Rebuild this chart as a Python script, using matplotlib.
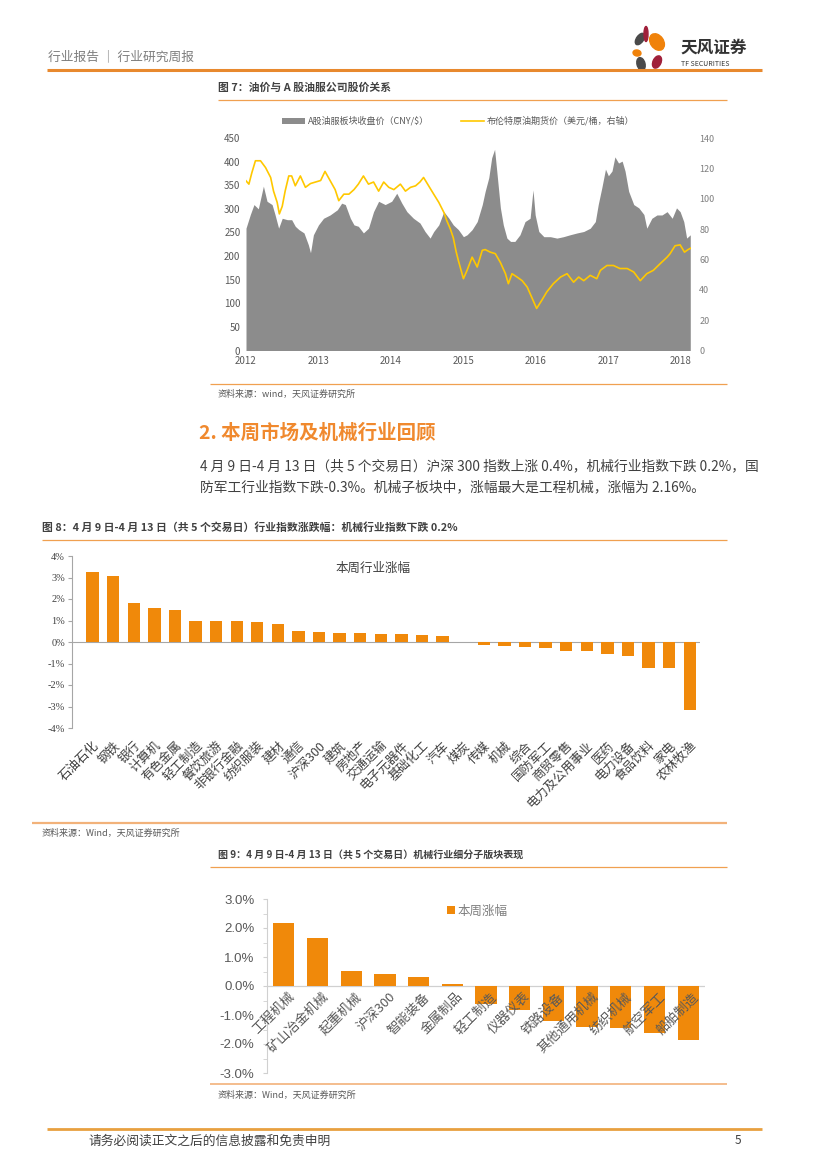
import matplotlib
matplotlib.use("Agg")
import matplotlib.pyplot as plt
from matplotlib.patches import Ellipse
import numpy as np

plt.rcParams['font.family'] = ['Noto Sans CJK SC', 'DejaVu Sans']

# ---------------- data: figure 7 ----------------
stock_t = [2012.00, 2012.06, 2012.11, 2012.17, 2012.24, 2012.29, 2012.36, 2012.40, 2012.45, 2012.50,
           2012.57, 2012.63, 2012.68, 2012.73, 2012.80, 2012.86, 2012.89, 2012.93, 2013.00, 2013.07,
           2013.16, 2013.26, 2013.32, 2013.37, 2013.44, 2013.49, 2013.55, 2013.62, 2013.69, 2013.76,
           2013.83, 2013.92, 2014.01, 2014.08, 2014.15, 2014.22, 2014.31, 2014.40, 2014.47, 2014.54,
           2014.59, 2014.66, 2014.73, 2014.80, 2014.86, 2014.93, 2015.00, 2015.05, 2015.12, 2015.19,
           2015.26, 2015.30, 2015.35, 2015.39, 2015.43, 2015.46, 2015.51, 2015.55, 2015.60, 2015.65,
           2015.71, 2015.78, 2015.85, 2015.92, 2015.96, 2015.99, 2016.04, 2016.11, 2016.20, 2016.29,
           2016.38, 2016.47, 2016.57, 2016.66, 2016.75, 2016.82, 2016.86, 2016.91, 2016.96, 2017.00,
           2017.05, 2017.09, 2017.14, 2017.19, 2017.23, 2017.28, 2017.35, 2017.42, 2017.49, 2017.53,
           2017.60, 2017.67, 2017.74, 2017.81, 2017.88, 2017.94, 2017.99, 2018.04, 2018.08, 2018.13]
stock_v = [259, 288, 309, 300, 348, 316, 309, 288, 259, 280,
           277, 277, 263, 256, 249, 224, 207, 245, 266, 280,
           287, 298, 312, 309, 280, 266, 263, 249, 259, 294,
           316, 309, 316, 333, 312, 294, 280, 270, 252, 238,
           252, 266, 294, 280, 266, 256, 241, 245, 256, 273,
           309, 337, 366, 408, 426, 380, 302, 266, 238, 231,
           231, 245, 273, 280, 340, 287, 252, 241, 241, 238,
           241, 245, 249, 252, 259, 273, 309, 345, 384, 370,
           380, 410, 397, 401, 380, 337, 309, 302, 288, 259,
           280, 287, 287, 294, 280, 302, 294, 273, 238, 245]

oil_t = [2012.00, 2012.04, 2012.08, 2012.13, 2012.20, 2012.27, 2012.34, 2012.38, 2012.43, 2012.46,
         2012.50, 2012.54, 2012.59, 2012.63, 2012.68, 2012.75, 2012.82, 2012.89, 2012.96, 2013.03,
         2013.09, 2013.16, 2013.23, 2013.28, 2013.35, 2013.42, 2013.49, 2013.55, 2013.62, 2013.69,
         2013.76, 2013.83, 2013.90, 2013.97, 2014.04, 2014.13, 2014.20, 2014.27, 2014.34, 2014.40,
         2014.45, 2014.52, 2014.59, 2014.66, 2014.73, 2014.77, 2014.82, 2014.86, 2014.90, 2014.93,
         2015.00, 2015.05, 2015.12, 2015.19, 2015.26, 2015.30, 2015.37, 2015.44, 2015.51, 2015.58,
         2015.62, 2015.67, 2015.74, 2015.81, 2015.88, 2015.94, 2016.01, 2016.08, 2016.15, 2016.24,
         2016.34, 2016.43, 2016.52, 2016.59, 2016.66, 2016.75, 2016.84, 2016.89, 2016.98, 2017.07,
         2017.16, 2017.26, 2017.35, 2017.44, 2017.53, 2017.62, 2017.71, 2017.81, 2017.85, 2017.92,
         2017.99, 2018.05, 2018.10, 2018.14]
oil_v = [111.8, 109.6, 117, 125, 125, 120.5, 114, 105, 97.6, 90,
         95, 105, 115, 115, 108.5, 115, 107.5, 110, 111, 112,
         118, 112, 106, 98.7, 103, 103, 106, 109.6, 115, 109.6,
         111, 105, 111, 107.5, 106, 109.6, 105, 107.5, 108.5, 111,
         114, 108.5, 103, 97.6, 91, 85.6, 80, 74.3, 65, 59.3,
         47.3, 52.8, 61.5, 55, 66, 66.5, 64.8, 63.8, 58, 50.6,
         44, 50.6, 48.4, 46, 41.8, 35.3, 27.7, 33, 38.6, 44,
         48.4, 50.6, 45, 48.4, 46, 49.5, 47.3, 52.8, 56, 56,
         54, 54, 51.7, 46, 50.6, 52.8, 57, 61.5, 63.7, 69,
         69.6, 64.8, 66.5, 67.5]
year_ticks = [2012, 2013, 2014, 2015, 2016, 2017, 2018]

# ---------------- data: figure 8 ----------------
ind_names = ['石油石化', '钢铁', '银行', '计算机', '有色金属', '轻工制造', '餐饮旅游', '非银行金融',
             '纺织服装', '建材', '通信', '沪深300', '建筑', '房地产', '交通运输', '电子元器件',
             '基础化工', '汽车', '煤炭', '传媒', '机械', '综合', '国防军工', '商贸零售',
             '电力及公用事业', '医药', '电力设备', '食品饮料', '家电', '农林牧渔']
ind_vals = [3.25, 3.05, 1.82, 1.60, 1.49, 0.96, 0.96, 0.96, 0.93, 0.82,
            0.53, 0.45, 0.42, 0.40, 0.39, 0.36, 0.31, 0.28, 0.01, -0.16,
            -0.20, -0.25, -0.28, -0.40, -0.42, -0.54, -0.67, -1.20, -1.20, -3.15]

# ---------------- data: figure 9 ----------------
sub_names = ['工程机械', '矿山冶金机械', '起重机械', '沪深300', '智能装备', '金属制品', '轻工制造',
             '仪器仪表', '铁路设备', '其他通用机械', '纺织机械', '航空军工', '船舶制造']
sub_vals = [2.16, 1.64, 0.51, 0.42, 0.31, 0.08, -0.63, -0.83, -1.22, -1.43, -1.45, -1.63, -1.86]

ORANGE = '#F0890A'
LINE_OR = '#F0A050'
W, H = 827, 1169

fig = plt.figure(figsize=(W / 100, H / 100), dpi=100)

# overlay in pixel coordinates
ov = fig.add_axes([0, 0, 1, 1], zorder=-1)
ov.set_xlim(0, W)
ov.set_ylim(H, 0)
ov.axis('off')

def hline(y, x0, x1, lw=1.0, color=LINE_OR):
    ov.plot([x0, x1], [y, y], color=color, lw=lw, solid_capstyle='butt')

def txt(x, y, s, size=8, color='#404040', weight='normal', ha='left', va='center', **kw):
    ov.text(x, y, s, fontsize=size, color=color, fontweight=weight, ha=ha, va=va, **kw)

# header
txt(48, 57, '行业报告 ｜ 行业研究周报', size=9.2, color='#7F7F7F')
hline(69.5, 47, 762, lw=2.2, color='#E8892E')
# logo
for (cx, cy, w, h, ang, col) in [(640, 39, 7, 13, 35, '#4A4A4A'), (646, 34, 4, 15, 0, '#A0203A'),
                                  (657, 42, 13, 18, -35, '#F0820A'), (637, 53, 8, 6, 10, '#F0820A'),
                                  (657, 62, 8, 13, 25, '#A0203A'), (641, 64, 8, 13, -15, '#4A4A4A')]:
    ov.add_patch(Ellipse((cx, cy), w, h, angle=ang, color=col))
txt(680, 48, '天风证券', size=12, color='#333333', weight='bold')
txt(681, 64, 'TF SECURITIES', size=5, color='#333333')

# figure 7 title
txt(218, 88, '图 7：油价与 A 股油服公司股价关系', size=7.8, color='#404040', weight='bold')
hline(100, 218, 727, lw=0.9)

ax7 = fig.add_axes([246 / W, 1 - 350.5 / H, (691 - 246) / W, (350.5 - 138) / H])
ax7.fill_between(stock_t, stock_v, 0, color='#8C8C8C', lw=0, label='A股油服板块收盘价（CNY/$）')
ax7.set_ylim(0, 450)
ax7.set_xlim(2012.0, 2018.14)
ax7.set_yticks(np.arange(0, 451, 50))
ax7.set_xticks(year_ticks)
ax7.set_xticklabels([str(y) for y in year_ticks])
for s in ax7.spines.values():
    s.set_visible(False)
ax7.tick_params(length=0, labelsize=7, colors='#595959', pad=4)
ax7b = ax7.twinx()
ax7b.plot(oil_t, oil_v, color='#FFC800', lw=1.2, label='布伦特原油期货价（美元/桶，右轴）')
ax7b.set_ylim(0, 140)
ax7b.set_yticks(np.arange(0, 141, 20))
for s in ax7b.spines.values():
    s.set_visible(False)
ax7b.tick_params(length=0, labelsize=6.5, colors='#7F7F7F', pad=6)
h1, l1 = ax7.get_legend_handles_labels()
h2, l2 = ax7b.get_legend_handles_labels()
fig.legend(h1 + h2, l1 + l2, loc='center', bbox_to_anchor=(458 / W, 1 - 121 / H), ncol=2,
           frameon=False, fontsize=6.5, labelcolor='#595959', handlelength=2.6,
           handleheight=0.6, columnspacing=3.5, handletextpad=0.3)

hline(383.5, 210, 727, lw=0.9)
txt(218, 394, '资料来源：wind，天风证券研究所', size=6.5, color='#595959')

# section heading + body
txt(199, 433, '2. 本周市场及机械行业回顾', size=14, color='#F0892E', weight='bold')
txt(200, 466, '4 月 9 日-4 月 13 日（共 5 个交易日）沪深 300 指数上涨 0.4%，机械行业指数下跌 0.2%，国',
    size=9.9, color='#404040')
txt(200, 487, '防军工行业指数下跌-0.3%。机械子板块中，涨幅最大是工程机械，涨幅为 2.16%。',
    size=9.9, color='#404040')

# figure 8
txt(42, 528, '图 8：4 月 9 日-4 月 13 日（共 5 个交易日）行业指数涨跌幅：机械行业指数下跌 0.2%',
    size=7.8, color='#404040', weight='bold')
hline(540, 42, 727, lw=0.9)

ax8 = fig.add_axes([72 / W, 1 - 728 / H, (700 - 72) / W, (728 - 556) / H])
x8 = np.arange(len(ind_names))
ax8.bar(x8, ind_vals, width=0.6, color=ORANGE, zorder=3)
ax8.set_ylim(-4, 4)
ax8.set_xlim(-1.0, len(ind_names) - 0.5)
ax8.set_yticks(np.arange(-4, 5, 1))
ax8.set_yticklabels([f'{v}%' for v in range(-4, 5)], family=['Liberation Serif', 'DejaVu Serif'])
ax8.axhline(0, color='#A6A6A6', lw=0.8, zorder=2)
for k in ['top', 'right', 'bottom']:
    ax8.spines[k].set_visible(False)
ax8.spines['left'].set_color('#A6A6A6')
ax8.spines['left'].set_linewidth(0.8)
ax8.tick_params(axis='y', length=3, color='#A6A6A6', labelsize=7.5, colors='#404040', pad=2)
ax8.set_xticks(x8)
ax8.set_xticklabels(ind_names, rotation=45, ha='right', va='top', rotation_mode='anchor',
                    fontsize=9, color='#404040')
ax8.tick_params(axis='x', length=0, pad=8)
ax8.text(0.48, 0.925, '本周行业涨幅', transform=ax8.transAxes, fontsize=9, color='#404040',
         ha='center', va='center')

hline(822.5, 32, 727, lw=1.6, color='#F2B27A')
txt(42, 833, '资料来源：Wind，天风证券研究所', size=6.5, color='#595959')

# figure 9
txt(218, 855, '图 9：4 月 9 日-4 月 13 日（共 5 个交易日）机械行业细分子版块表现',
    size=7.2, color='#404040', weight='bold')
hline(866.5, 210, 727, lw=0.9)

ax9 = fig.add_axes([267 / W, 1 - 1073 / H, (705 - 267) / W, (1073 - 899) / H])
x9 = np.arange(len(sub_names))
ax9.bar(x9, sub_vals, width=0.63, color=ORANGE, zorder=3, label='本周涨幅')
ax9.set_ylim(-3, 3)
ax9.set_xlim(-0.5, len(sub_names) - 0.5)
ax9.set_yticks(np.arange(-3, 3.01, 1))
ax9.set_yticklabels([f'{v:.1f}%' for v in np.arange(-3, 3.01, 1)], family=['Liberation Sans', 'DejaVu Sans'])
ax9.set_yticks(np.arange(-2.5, 3, 1), minor=True)
ax9.axhline(0, color='#D0D0D0', lw=0.9, zorder=2)
for k in ['top', 'right', 'bottom']:
    ax9.spines[k].set_visible(False)
ax9.spines['left'].set_color('#D0D0D0')
ax9.tick_params(axis='y', which='both', length=3, color='#D0D0D0', labelsize=9.5, colors='#595959', pad=6)
ax9.set_xticks([])
for i, name in enumerate(sub_names):
    ax9.annotate(name, xy=(i, 0), xytext=(3, -3), textcoords='offset points',
                 rotation=45, rotation_mode='anchor', ha='right', va='top',
                 fontsize=9.5, color='#595959', zorder=4,
                 family=['Noto Sans CJK SC', 'Liberation Sans'])
ax9.legend(loc='center', bbox_to_anchor=(0.48, 0.93), frameon=False, fontsize=9,
           labelcolor='#7F7F7F', handlelength=0.6, handleheight=0.6, handletextpad=0.2)

hline(1083.5, 210, 727, lw=1.2, color='#F2B27A')
txt(218, 1095, '资料来源：Wind，天风证券研究所', size=6.5, color='#595959')

# footer
hline(1129, 47, 762, lw=2.0, color='#E8A040')
txt(88, 1141, '请务必阅读正文之后的信息披露和免责申明', size=9.2, color='#404040')
txt(735, 1141, '5', size=8.5, color='#404040')

fig.savefig('out.png', dpi=100)
